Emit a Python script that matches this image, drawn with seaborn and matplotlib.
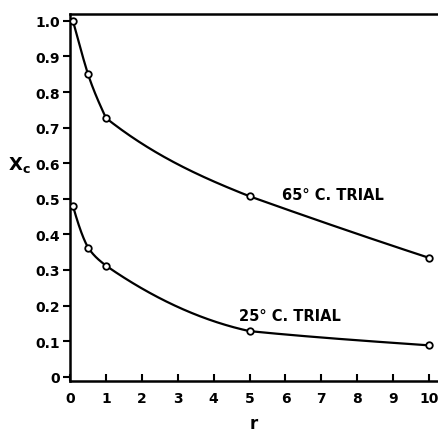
import numpy as np
import pandas as pd
import matplotlib
matplotlib.use("Agg")
import matplotlib.pyplot as plt
import seaborn as sns

# Data
r_65 = [0.08, 0.5, 1.0, 5.0, 10.0]
xc_65 = [1.0, 0.85, 0.727, 0.507, 0.334]
r_25 = [0.08, 0.5, 1.0, 5.0, 10.0]
xc_25 = [0.48, 0.363, 0.312, 0.128, 0.088]

label_65 = "65° C. TRIAL"
label_25 = "25° C. TRIAL"
x_ticks = [0, 1, 2, 3, 4, 5, 6, 7, 8, 9, 10]
y_ticks = [0, 0.1, 0.2, 0.3, 0.4, 0.5, 0.6, 0.7, 0.8, 0.9, 1.0]
y_ticklabels = ["0", "0.1", "0.2", "0.3", "0.4", "0.5", "0.6", "0.7", "0.8", "0.9", "1.0"]

# Shape of the hand-drawn smooth curves: end tangents of each segment (curve styling)
tan_65 = [(-0.37, -0.32), (-0.30, -0.22), (-0.08, -0.04), (-0.036, -0.033)]
tan_25 = [(-0.36, -0.18), (-0.15, -0.08), (-0.07, -0.022), (-0.010, -0.007)]


def hermite_curve(x, y, tangents, n_per=120):
    """Smooth hand-drawn style curve through the read points (cubic Hermite segments)."""
    xs_all, ys_all = [], []
    for k in range(len(x) - 1):
        h = x[k + 1] - x[k]
        t = np.linspace(0, 1, n_per)
        h00 = 2 * t**3 - 3 * t**2 + 1
        h10 = t**3 - 2 * t**2 + t
        h01 = -2 * t**3 + 3 * t**2
        h11 = t**3 - t**2
        mL, mR = tangents[k]
        xs_all.append(x[k] + t * h)
        ys_all.append(h00 * y[k] + h10 * h * mL + h01 * y[k + 1] + h11 * h * mR)
    return np.concatenate(xs_all), np.concatenate(ys_all)


sns.set_style("white")
plt.rcParams["font.family"] = ["DejaVu Sans"]
plt.rcParams["text.color"] = "black"
plt.rcParams["xtick.color"] = "black"
plt.rcParams["ytick.color"] = "black"
plt.rcParams["axes.labelcolor"] = "black"

fig = plt.figure(figsize=(4.38, 4.35), dpi=100)
ax = fig.add_axes([0.16, 0.122, 0.84, 0.844])

for rr, yy, tt in [(r_65, xc_65, tan_65), (r_25, xc_25, tan_25)]:
    cx, cy = hermite_curve(rr, yy, tt)
    curve = pd.DataFrame({"r": cx, "xc": cy})
    sns.lineplot(data=curve, x="r", y="xc", ax=ax, color="black", lw=1.6, sort=False)
    pts = pd.DataFrame({"r": rr, "xc": yy})
    sns.scatterplot(data=pts, x="r", y="xc", ax=ax, marker="o", s=22,
                    facecolor="white", edgecolor="black", linewidth=1.3, zorder=5)

ax.set_xlim(0, 10.25)
ax.set_ylim(-0.012, 1.02)
ax.set_xticks(x_ticks)
ax.set_xticklabels([str(t) for t in x_ticks])
ax.set_yticks(y_ticks)
ax.set_yticklabels(y_ticklabels)

ax.tick_params(axis="x", direction="in", length=5, width=1.5, pad=7,
               labelsize=10, bottom=True, colors="black")
ax.tick_params(axis="y", direction="out", length=5, width=1.5, pad=2.5,
               labelsize=10, left=True, colors="black")
for lab in ax.get_xticklabels() + ax.get_yticklabels():
    lab.set_fontweight("bold")

for side in ["left", "bottom", "top"]:
    ax.spines[side].set_visible(True)
    ax.spines[side].set_linewidth(1.8)
    ax.spines[side].set_color("black")
ax.spines["right"].set_visible(False)

ax.set_xlabel("")
ax.set_ylabel("")
fig.text(254 / 438, 1 - 424 / 435, "r", fontsize=12, fontweight="bold",
         ha="center", va="center", color="black")
fig.text(0.045, 0.62, r"X$_\mathregular{c}$", fontsize=13, fontweight="bold",
         ha="center", va="center", color="black")

ax.text(5.9, 0.512, label_65, fontsize=10.5, fontweight="bold", va="center",
        ha="left", color="black")
ax.text(4.7, 0.172, label_25, fontsize=10.5, fontweight="bold", va="center",
        ha="left", color="black")

fig.savefig("out.png", dpi=100)
